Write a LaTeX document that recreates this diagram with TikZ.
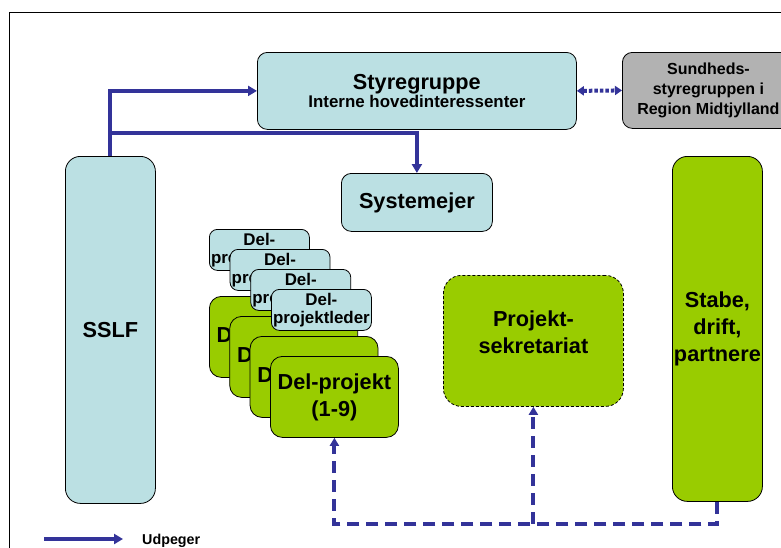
\documentclass[tikz,border=0pt]{standalone}
\usepackage{fontspec}
\setmainfont{Liberation Sans}
\usetikzlibrary{arrows.meta,calc}
\definecolor{lblue}{RGB}{187,224,227}
\definecolor{lgreen}{RGB}{153,204,0}
\definecolor{lgray}{RGB}{178,178,178}
\definecolor{navy}{RGB}{51,51,153}
\begin{document}
\begin{tikzpicture}[x=1pt,y=-1pt,
  box/.style={draw=black, line width=0.8pt, anchor=north west, inner sep=0pt, align=center},
  bigfont/.style={font=\fontsize{21.7}{27}\selectfont\bfseries},
  midfont/.style={font=\fontsize{16.9}{18.5}\selectfont\bfseries},
  dpbox/.style={box, fill=lgreen, rounded corners=12pt, minimum width=128pt, minimum height=81pt, bigfont},
  dlbox/.style={box, fill=lblue, rounded corners=8pt, minimum width=100pt, minimum height=41pt, midfont},
  udp/.style={draw=navy, line width=4pt, -{Triangle[length=9pt,width=10pt]}},
  dsh/.style={draw=navy, line width=4pt, dash pattern=on 12pt off 7pt, -{Triangle[length=8pt,width=9pt]}},
  dotarr/.style={draw=navy, line width=4pt, dash pattern=on 3.5pt off 2pt, {Triangle[length=7pt,width=9pt]}-{Triangle[length=7pt,width=9pt]}}
]
\clip (0,0) rectangle (781,547);
\fill[white] (0,0) rectangle (781,547);
% frame
\draw[line width=1pt] (9,560) -- (9,12) -- (800,12);

% top boxes
\node[box, fill=lblue, rounded corners=10pt, minimum width=319pt, minimum height=77pt, font=\bfseries] (styre) at (257,52)
  {\fontsize{21.7}{20}\selectfont Styregruppe\\\fontsize{16.9}{20}\selectfont Interne hovedinteressenter};
\node[box, fill=lgray, rounded corners=10pt, minimum width=172pt, minimum height=76pt, font=\fontsize{16}{20}\selectfont\bfseries] (sund) at (622,52)
  {Sundheds-\\styregruppen i\\Region Midtjylland};

% side columns
\node[box, fill=lblue, rounded corners=15pt, minimum width=90pt, minimum height=347pt, bigfont] (sslf) at (65,156) {SSLF};
\node[box, fill=lgreen, rounded corners=15pt, minimum width=90pt, minimum height=345pt, bigfont] (stabe) at (672,156) {Stabe,\\drift,\\partnere};

% systemejer
\node[box, fill=lblue, rounded corners=10pt, minimum width=151pt, minimum height=58pt, bigfont] (sys) at (341,173) {Systemejer};

% projektsekretariat
\node[box, fill=lgreen, dash pattern=on 3pt off 2pt, rounded corners=18pt, minimum width=180pt, minimum height=131pt] (sek) at (443,275) {};
\node[bigfont, align=center, inner sep=0pt] (sektxt) at ($(sek.center)+(0,-9)$) {Projekt-\\sekretariat};

% stack of del-projekter
\foreach \i in {1,...,3} {
  \node[dpbox] (dp\i) at ({209+20.33*(\i-1)},{296+20*(\i-1)}) {Del-projekt};
}
\node[dpbox] (dp4) at (270,356) {Del-projekt\\(1-9)};
\foreach \i in {1,...,4} {
  \node[dlbox] (dl\i) at ({209+20.67*(\i-1)},{229+20*(\i-1)}) {Del-\\projektleder};
}

% connectors
\draw[udp] (sslf.north) |- (styre.west);
\draw[udp] (sslf.north) -- ++(0,-23) -| (sys.north);
\draw[dotarr] (styre.east) -- (sund.west);
\coordinate (dcorner) at ($(stabe.south)+(0,22)$);
\draw[dsh] (stabe.south) -- (dcorner) -| (dp4.south);
\draw[dsh] (sek.south |- dcorner) -- (sek.south);

% legend
\coordinate (lgA) at (44,539);
\coordinate (lgB) at (123,539);
\draw[udp] (lgA) -- (lgB);
\node[anchor=base west, inner sep=0pt, font=\fontsize{14.3}{16}\selectfont\bfseries] (udpeger) at (142,544) {Udpeger};
\end{tikzpicture}
\end{document}
